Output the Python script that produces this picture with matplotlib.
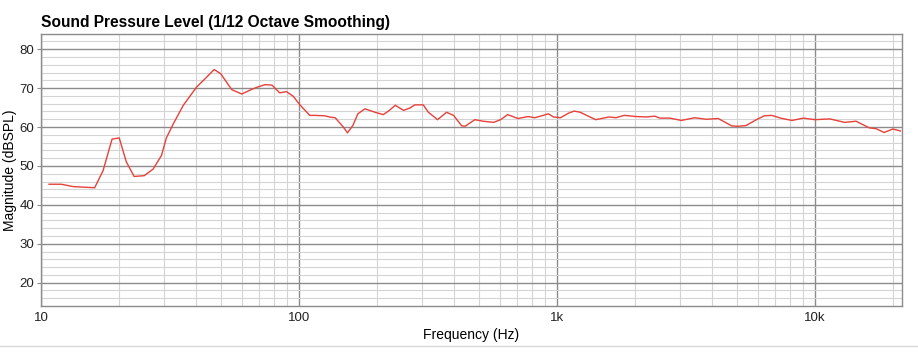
import matplotlib
matplotlib.use("Agg")
import matplotlib.pyplot as plt
from matplotlib.ticker import FixedLocator, FixedFormatter, MultipleLocator, NullFormatter
from matplotlib.lines import Line2D

plt.rcParams['font.family'] = ['Liberation Sans', 'DejaVu Sans']

# frequency response (Hz, dBSPL)
freq = [10.74, 11.99, 13.3, 16.14, 17.4, 18.85, 20.1, 21.4, 22.95, 25.1, 27.2, 29.3,
        30.6, 32.6, 35.6, 40.1, 43.2, 46.9, 49.7, 54.9, 60.0, 65.6, 69.2, 73.8, 78.5,
        84.1, 89.4, 95.0, 100.5, 110, 115, 125.8, 131, 138, 148.5, 154, 161.6, 169,
        180, 197, 212, 222, 236, 254, 269, 281, 303, 317, 337, 344, 373, 397, 427,
        440, 480, 517, 567, 604, 643, 705, 772, 820, 872, 925, 968, 1030, 1110, 1165,
        1230, 1330, 1410, 1590, 1690, 1820, 2030, 2220, 2390, 2500, 2740, 3030, 3410,
        3790, 4210, 4750, 5020, 5400, 5920, 6350, 6800, 7340, 8130, 9000, 10000,
        11400, 13000, 14400, 16200, 17200, 18500, 20000, 21400]
spl = [45.3, 45.3, 44.7, 44.4, 48.8, 56.9, 57.2, 51.1, 47.3, 47.5, 49.2, 52.7,
       57.2, 60.9, 65.6, 70.3, 72.4, 74.8, 73.7, 69.6, 68.5, 69.7, 70.3, 70.9, 70.8,
       68.8, 69.1, 67.9, 65.8, 63.0, 63.0, 62.9, 62.6, 62.4, 60.0, 58.5, 60.4, 63.4,
       64.7, 63.8, 63.2, 64.1, 65.6, 64.3, 64.9, 65.7, 65.7, 63.8, 62.4, 61.9, 63.8,
       63.0, 60.3, 60.2, 61.9, 61.5, 61.2, 61.9, 63.2, 62.2, 62.7, 62.4, 62.9, 63.4,
       62.6, 62.4, 63.6, 64.1, 63.8, 62.7, 61.9, 62.6, 62.4, 63.0, 62.7, 62.6, 62.8,
       62.3, 62.3, 61.7, 62.4, 62.0, 62.2, 60.3, 60.2, 60.4, 61.9, 62.9, 63.0, 62.3,
       61.7, 62.3, 61.9, 62.1, 61.2, 61.5, 59.8, 59.6, 58.6, 59.5, 59.0]

xticks = [10, 100, 1000, 10000]
xlabels = ['10', '100', '1k', '10k']
yticks = [20, 30, 40, 50, 60, 70, 80]

fig = plt.figure(figsize=(9.18, 3.6), dpi=100)
ax = fig.add_axes([41/918, 54/360, 861/918, 272.3/360])

ax.set_xscale('log')
ax.set_xlim(10, 21700)
ax.set_ylim(14, 84)

minor_x = [m * 10**d for d in range(1, 5) for m in range(2, 10) if m * 10**d < 21700]
ax.xaxis.set_major_locator(FixedLocator(xticks))
ax.xaxis.set_major_formatter(FixedFormatter(xlabels))
ax.xaxis.set_minor_locator(FixedLocator(minor_x))
ax.xaxis.set_minor_formatter(NullFormatter())
ax.yaxis.set_major_locator(FixedLocator(yticks))
ax.yaxis.set_minor_locator(MultipleLocator(2))

ax.grid(which='major', color='#8c8c8c', linewidth=1.0)
ax.grid(which='minor', color='#d4d4d4', linewidth=0.8)
ax.set_axisbelow(True)

ax.tick_params(which='both', length=0, labelsize=9.5, colors='#222222', pad=4)
ax.tick_params(axis='y', which='major', length=3, color='#8c8c8c', pad=2)
for s in ax.spines.values():
    s.set_color('#8c8c8c')
    s.set_linewidth(1.0)

ax.plot(freq, spl, color='#e8403a', linewidth=1.0)

ax.set_xlabel('Frequency (Hz)', fontsize=10, labelpad=3)
ax.set_ylabel('Magnitude (dBSPL)', fontsize=10)
ax.yaxis.set_label_coords(-24/861, 0.5)
fig.text(41/918, 1 - 22/360, 'Sound Pressure Level (1/12 Octave Smoothing)',
         fontsize=11.2, fontweight='bold', va='center', ha='left')

fig.add_artist(Line2D([0, 1], [1 - 346/360, 1 - 346/360], color='#d8d8d8', linewidth=1.0))

fig.savefig('out.png', dpi=100)
